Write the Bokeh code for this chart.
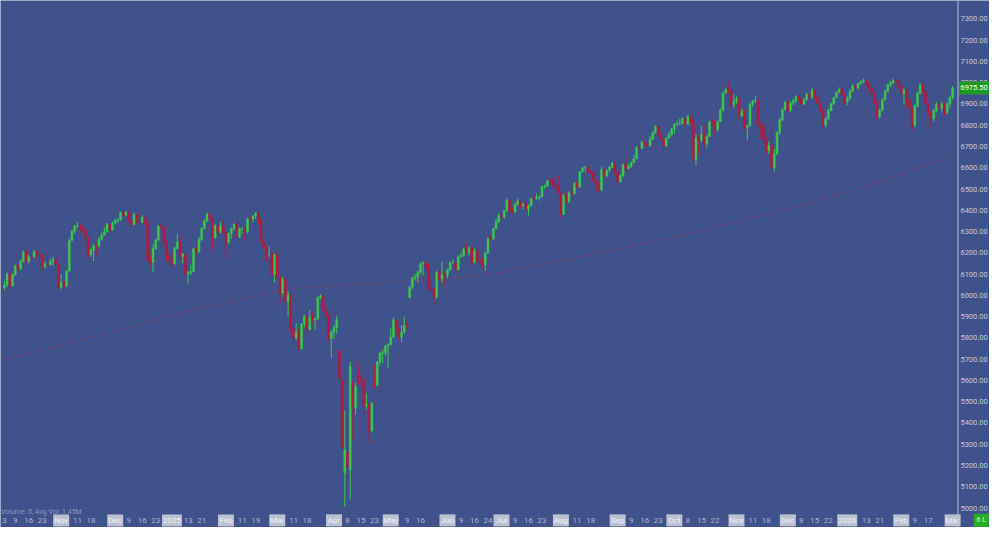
import pandas as pd
from bokeh.plotting import figure
from bokeh.models import ColumnDataSource, Range1d, Span
from bokeh.embed import file_html
from bokeh.resources import INLINE
from bokeh.core.properties import value

# ---------------- data ----------------
first_day = "2024-10-03"
last_day = "2026-03-02"
holidays = ["2024-11-28", "2024-12-25", "2025-01-01", "2025-01-09", "2025-01-20", "2025-02-17",
            "2025-04-18", "2025-05-26", "2025-06-19", "2025-07-04", "2025-09-01", "2025-11-27",
            "2025-12-25", "2026-01-01", "2026-01-19", "2026-02-16"]

opens = [6035, 6050, 6100, 6044, 6098, 6139, 6126, 6160, 6204, 6158,
         6184, 6182, 6206, 6194, 6190, 6135, 6147, 6144, 6159, 6168,
         6148, 6038, 6061, 6044, 6113, 6259, 6302, 6324, 6328, 6310,
         6309, 6272, 6192, 6214, 6235, 6234, 6264, 6283, 6299, 6333,
         6308, 6340, 6353, 6355, 6390, 6377, 6390, 6352, 6333, 6380,
         6346, 6345, 6367, 6342, 6162, 6156, 6219, 6260, 6325, 6322,
         6254, 6188, 6162, 6148, 6221, 6251, 6184, 6192, 6100, 6107,
         6113, 6219, 6205, 6263, 6314, 6350, 6382, 6362, 6272, 6327,
         6297, 6328, 6295, 6249, 6291, 6313, 6334, 6275, 6314, 6315,
         6298, 6360, 6359, 6373, 6386, 6359, 6253, 6222, 6193, 6193,
         6098, 6191, 6085, 6012, 6076, 5971, 6001, 5845, 5801, 5827,
         5749, 5865, 5901, 5840, 5899, 5886, 5890, 5989, 5997, 5931,
         5911, 5798, 5828, 5849, 5740, 5600, 5165, 5265, 5180, 5580,
         5470, 5620, 5613, 5603, 5482, 5488, 5362, 5600, 5579, 5687,
         5727, 5730, 5761, 5768, 5803, 5885, 5847, 5804, 5827, 5859,
         5990, 6038, 6080, 6086, 6109, 6149, 6155, 6131, 6034, 6031,
         5991, 6109, 6076, 6098, 6097, 6120, 6153, 6154, 6121, 6181,
         6187, 6219, 6201, 6224, 6155, 6210, 6160, 6157, 6143, 6200,
         6266, 6265, 6314, 6345, 6376, 6369, 6397, 6447, 6397, 6392,
         6428, 6444, 6422, 6430, 6404, 6422, 6454, 6453, 6461, 6463,
         6511, 6514, 6539, 6538, 6518, 6509, 6484, 6381, 6472, 6440,
         6485, 6478, 6527, 6510, 6581, 6600, 6601, 6581, 6579, 6539,
         6523, 6496, 6592, 6562, 6588, 6602, 6622, 6578, 6533, 6564,
         6617, 6595, 6607, 6624, 6642, 6696, 6691, 6721, 6712, 6703,
         6734, 6765, 6794, 6756, 6736, 6702, 6740, 6756, 6783, 6805,
         6808, 6808, 6831, 6805, 6843, 6823, 6640, 6741, 6729, 6755,
         6713, 6747, 6817, 6816, 6779, 6817, 6870, 6952, 6967, 6966,
         6896, 6913, 6924, 6843, 6866, 6790, 6798, 6900, 6914, 6918,
         6804, 6799, 6736, 6681, 6705, 6601, 6665, 6766, 6826, 6873,
         6908, 6871, 6905, 6915, 6935, 6925, 6900, 6920, 6945, 6930,
         6965, 6935, 6905, 6870, 6800, 6830, 6870, 6900, 6930, 6955,
         6970, 6945, 6910, 6925, 6960, 6985, 6975, 6995, 7005, 7010,
         6995, 6975, 6950, 6910, 6840, 6870, 6920, 6960, 6990, 7000,
         7010, 7005, 6985, 6950, 6965, 6920, 6880, 6800, 6890, 6950,
         6990, 6960, 6900, 6860, 6830, 6870, 6900, 6880, 6900, 6860,
         6900, 6930]

highs = [6068, 6108, 6110, 6104, 6145, 6150, 6168, 6210, 6215, 6190,
         6210, 6212, 6212, 6205, 6194, 6160, 6178, 6172, 6182, 6192,
         6150, 6100, 6066, 6120, 6266, 6308, 6332, 6345, 6335, 6330,
         6315, 6275, 6222, 6240, 6245, 6275, 6295, 6318, 6340, 6336,
         6346, 6360, 6362, 6395, 6400, 6398, 6394, 6368, 6390, 6385,
         6370, 6378, 6370, 6370, 6200, 6240, 6268, 6330, 6340, 6330,
         6258, 6215, 6200, 6228, 6290, 6275, 6200, 6196, 6115, 6145,
         6225, 6230, 6275, 6320, 6360, 6390, 6388, 6365, 6335, 6330,
         6345, 6360, 6300, 6296, 6320, 6340, 6348, 6320, 6320, 6318,
         6365, 6370, 6378, 6392, 6390, 6365, 6270, 6230, 6230, 6210,
         6196, 6225, 6090, 6090, 6080, 6020, 6005, 5860, 5870, 5845,
         5870, 5910, 5905, 5930, 5925, 5895, 5995, 6005, 6000, 5945,
         5915, 5835, 5860, 5905, 5745, 5610, 5458, 5480, 5690, 5600,
         5590, 5680, 5630, 5600, 5540, 5490, 5500, 5675, 5692, 5735,
         5745, 5768, 5775, 5845, 5895, 5880, 5850, 5860, 5900, 5880,
         6045, 6090, 6100, 6115, 6155, 6160, 6160, 6150, 6070, 6035,
         6115, 6120, 6160, 6110, 6125, 6160, 6170, 6180, 6190, 6200,
         6225, 6245, 6230, 6226, 6225, 6215, 6185, 6175, 6205, 6272,
         6285, 6318, 6360, 6385, 6385, 6402, 6455, 6450, 6415, 6435,
         6455, 6446, 6435, 6445, 6428, 6460, 6470, 6480, 6470, 6515,
         6522, 6542, 6552, 6555, 6540, 6565, 6490, 6476, 6478, 6490,
         6520, 6532, 6540, 6585, 6605, 6610, 6612, 6590, 6585, 6545,
         6530, 6605, 6598, 6592, 6608, 6628, 6625, 6582, 6570, 6620,
         6648, 6618, 6628, 6660, 6700, 6705, 6728, 6725, 6735, 6750,
         6772, 6800, 6800, 6765, 6740, 6745, 6768, 6788, 6810, 6822,
         6830, 6838, 6835, 6848, 6845, 6855, 6760, 6760, 6795, 6800,
         6755, 6822, 6830, 6825, 6822, 6880, 6958, 6975, 7000, 6970,
         6945, 6940, 6926, 6880, 6875, 6805, 6905, 6918, 6940, 6922,
         6815, 6810, 6745, 6725, 6790, 6690, 6772, 6835, 6880, 6915,
         6912, 6912, 6925, 6942, 6945, 6930, 6928, 6955, 6950, 6975,
         6970, 6940, 6910, 6875, 6840, 6878, 6908, 6935, 6960, 6978,
         6975, 6950, 6940, 6968, 6992, 6995, 7000, 7012, 7020, 7015,
         7000, 6980, 6955, 6915, 6880, 6928, 6968, 6995, 7008, 7018,
         7020, 7010, 6990, 6975, 6970, 6925, 6885, 6900, 6958, 6998,
         6995, 6965, 6905, 6870, 6878, 6910, 6905, 6910, 6905, 6908,
         6940, 6985]

lows = [6025, 6040, 6035, 6040, 6090, 6112, 6118, 6155, 6150, 6150,
        6175, 6176, 6170, 6162, 6120, 6128, 6138, 6140, 6140, 6140,
        6032, 6030, 6025, 6040, 6200, 6255, 6290, 6318, 6295, 6300,
        6265, 6175, 6180, 6160, 6190, 6225, 6258, 6282, 6295, 6300,
        6305, 6335, 6340, 6350, 6370, 6372, 6345, 6325, 6330, 6340,
        6338, 6340, 6330, 6155, 6130, 6110, 6215, 6255, 6310, 6235,
        6165, 6150, 6130, 6145, 6215, 6170, 6150, 6085, 6055, 6095,
        6110, 6198, 6200, 6255, 6310, 6345, 6355, 6210, 6265, 6280,
        6290, 6290, 6175, 6240, 6265, 6305, 6270, 6270, 6290, 6260,
        6290, 6350, 6345, 6360, 6335, 6245, 6215, 6160, 6180, 6092,
        6060, 6075, 5960, 6000, 5950, 5900, 5820, 5760, 5790, 5740,
        5745, 5850, 5825, 5835, 5870, 5840, 5885, 5980, 5920, 5895,
        5790, 5705, 5795, 5820, 5600, 5280, 5006, 5120, 5040, 5320,
        5440, 5580, 5570, 5440, 5465, 5305, 5355, 5560, 5570, 5670,
        5680, 5715, 5660, 5765, 5800, 5835, 5790, 5780, 5820, 5840,
        5985, 6030, 6070, 6060, 6100, 6095, 6120, 6028, 6015, 5960,
        5985, 6070, 6060, 6050, 6080, 6115, 6148, 6115, 6118, 6178,
        6180, 6195, 6185, 6130, 6150, 6150, 6150, 6125, 6115, 6195,
        6255, 6262, 6310, 6340, 6350, 6360, 6395, 6385, 6385, 6390,
        6420, 6410, 6405, 6400, 6375, 6418, 6448, 6452, 6445, 6460,
        6500, 6510, 6530, 6512, 6495, 6478, 6365, 6378, 6430, 6435,
        6450, 6475, 6505, 6505, 6578, 6580, 6575, 6570, 6530, 6480,
        6488, 6490, 6558, 6555, 6580, 6598, 6565, 6500, 6530, 6555,
        6580, 6595, 6600, 6620, 6640, 6685, 6688, 6705, 6685, 6700,
        6730, 6760, 6748, 6728, 6690, 6700, 6738, 6748, 6760, 6795,
        6800, 6805, 6798, 6802, 6810, 6625, 6610, 6660, 6720, 6695,
        6690, 6745, 6800, 6755, 6770, 6815, 6865, 6945, 6950, 6885,
        6880, 6900, 6830, 6838, 6780, 6730, 6795, 6885, 6905, 6795,
        6735, 6720, 6660, 6665, 6595, 6583, 6660, 6755, 6820, 6870,
        6860, 6860, 6895, 6905, 6915, 6890, 6895, 6915, 6920, 6925,
        6925, 6895, 6860, 6780, 6790, 6825, 6865, 6895, 6925, 6950,
        6938, 6900, 6895, 6920, 6955, 6965, 6970, 6990, 6998, 6985,
        6965, 6940, 6900, 6825, 6830, 6865, 6915, 6955, 6980, 6995,
        6995, 6975, 6940, 6900, 6880, 6865, 6770, 6790, 6885, 6945,
        6950, 6890, 6845, 6790, 6820, 6860, 6870, 6860, 6845, 6850,
        6880, 6920]

closes = [6050, 6100, 6044, 6098, 6139, 6126, 6160, 6204, 6158, 6184,
          6182, 6206, 6194, 6190, 6135, 6147, 6144, 6159, 6168, 6148,
          6038, 6061, 6044, 6113, 6259, 6302, 6324, 6328, 6310, 6309,
          6272, 6192, 6214, 6235, 6234, 6264, 6283, 6299, 6333, 6308,
          6340, 6353, 6355, 6390, 6377, 6390, 6352, 6333, 6380, 6346,
          6345, 6367, 6342, 6162, 6156, 6219, 6260, 6325, 6322, 6254,
          6188, 6162, 6148, 6221, 6251, 6184, 6192, 6100, 6107, 6113,
          6219, 6205, 6263, 6314, 6350, 6382, 6362, 6272, 6327, 6297,
          6328, 6295, 6249, 6291, 6313, 6334, 6275, 6314, 6315, 6298,
          6360, 6359, 6373, 6386, 6359, 6253, 6222, 6193, 6193, 6098,
          6191, 6085, 6012, 6076, 5971, 6001, 5845, 5801, 5827, 5749,
          5865, 5901, 5840, 5899, 5886, 5890, 5989, 5997, 5931, 5911,
          5798, 5828, 5849, 5886, 5611, 5287, 5274, 5193, 5666, 5476,
          5571, 5613, 5603, 5482, 5488, 5362, 5492, 5579, 5687, 5727,
          5730, 5761, 5768, 5803, 5885, 5847, 5804, 5827, 5859, 5855,
          6038, 6080, 6086, 6109, 6149, 6155, 6131, 6034, 6031, 5991,
          6109, 6076, 6098, 6097, 6120, 6153, 6154, 6121, 6181, 6187,
          6219, 6201, 6224, 6155, 6210, 6160, 6157, 6143, 6200, 6266,
          6265, 6314, 6345, 6376, 6369, 6397, 6447, 6397, 6392, 6428,
          6444, 6422, 6430, 6404, 6422, 6454, 6453, 6461, 6463, 6511,
          6514, 6539, 6538, 6518, 6509, 6484, 6381, 6472, 6440, 6485,
          6478, 6527, 6510, 6581, 6600, 6601, 6581, 6579, 6539, 6523,
          6496, 6592, 6562, 6588, 6602, 6622, 6578, 6533, 6564, 6617,
          6595, 6607, 6624, 6642, 6696, 6691, 6721, 6712, 6703, 6734,
          6765, 6794, 6756, 6736, 6702, 6740, 6756, 6783, 6805, 6808,
          6808, 6831, 6805, 6843, 6823, 6640, 6741, 6729, 6755, 6713,
          6747, 6817, 6816, 6779, 6817, 6870, 6952, 6967, 6966, 6896,
          6913, 6924, 6843, 6866, 6790, 6798, 6900, 6914, 6918, 6804,
          6799, 6736, 6681, 6705, 6601, 6665, 6766, 6826, 6873, 6908,
          6871, 6905, 6915, 6935, 6925, 6900, 6920, 6945, 6930, 6965,
          6935, 6905, 6870, 6800, 6830, 6870, 6900, 6930, 6955, 6970,
          6945, 6910, 6925, 6960, 6985, 6975, 6995, 7005, 7010, 6995,
          6975, 6950, 6910, 6840, 6870, 6920, 6960, 6990, 7000, 7010,
          7005, 6985, 6950, 6965, 6920, 6880, 6800, 6890, 6950, 6990,
          6960, 6900, 6860, 6830, 6870, 6900, 6880, 6900, 6860, 6900,
          6930, 6975.5]

# 200-period moving average, read at a few bars (bar number, value)
ma_bars = [0, 35, 71, 108, 152, 181, 217, 254, 290, 326, 351]
ma_values = [5695, 5812, 5935, 6036, 6068, 6100, 6191, 6291, 6405, 6542, 6660]

# date axis labels
label_dates = ["2024-10-03", "2024-10-09", "2024-10-16", "2024-10-23", "2024-11-01", "2024-11-11",
               "2024-11-18", "2024-12-02", "2024-12-09", "2024-12-16", "2024-12-23", "2025-01-02",
               "2025-01-13", "2025-01-21", "2025-02-03", "2025-02-11", "2025-02-19", "2025-03-03",
               "2025-03-11", "2025-03-18", "2025-04-01", "2025-04-08", "2025-04-15", "2025-04-23",
               "2025-05-01", "2025-05-09", "2025-05-16", "2025-06-02", "2025-06-09", "2025-06-16",
               "2025-06-24", "2025-07-01", "2025-07-09", "2025-07-16", "2025-07-23", "2025-08-01",
               "2025-08-11", "2025-08-18", "2025-09-02", "2025-09-09", "2025-09-16", "2025-09-23",
               "2025-10-01", "2025-10-08", "2025-10-15", "2025-10-22", "2025-11-03", "2025-11-11",
               "2025-11-18", "2025-12-01", "2025-12-08", "2025-12-15", "2025-12-22", "2026-01-02",
               "2026-01-13", "2026-01-21", "2026-02-02", "2026-02-09", "2026-02-17", "2026-03-02"]
label_texts = ["3", "9", "16", "23", "Nov", "11", "18", "Dec", "9", "16", "23", "2025",
               "13", "21", "Feb", "11", "19", "Mar", "11", "18", "Apr", "8", "15", "23",
               "May", "9", "16", "Jun", "9", "16", "24", "Jul", "9", "16", "23", "Aug",
               "11", "18", "Sep", "9", "16", "23", "Oct", "8", "15", "22", "Nov", "11",
               "18", "Dec", "8", "15", "22", "2026", "13", "21", "Feb", "9", "17", "Mar"]
price_ticks = list(range(5000, 7301, 100))
last_price = closes[-1]

# ---------------- styling / layout constants ----------------
BG = "#40528b"
UP = "#38c84e"
DOWN = "#b7193c"
AXIS_TXT = "#c4c9de"
DATE_TXT = "#aab2cc"
FONT = "Roboto"
X0, X1 = -1.46, 364.66          # visible bar range incl. the price-scale column
Y0, Y1 = 4908.5, 7386.7          # visible price range incl. the date strip
AXIS_X = 353.0                   # price scale separator (in bar units)
LABEL_X = 353.9                  # left edge of price labels
DATE_Y = 4942                    # date strip baseline
VOL_Y = 4983

dates = pd.bdate_range(first_day, last_day, freq="C", holidays=holidays)
bar_of = {d.strftime("%Y-%m-%d"): i for i, d in enumerate(dates)}
bars = list(range(len(closes)))

colors = [UP if c >= o else DOWN for o, c in zip(opens, closes)]
src = ColumnDataSource(dict(
    x=bars, o=opens, h=highs, l=lows, c=closes,
    top=[max(o, c) for o, c in zip(opens, closes)],
    bot=[min(o, c) for o, c in zip(opens, closes)],
    color=colors))

p = figure(width=989, height=527, output_backend="svg", toolbar_location=None,
           x_range=Range1d(X0, X1), y_range=Range1d(Y0, Y1),
           x_axis_location=None, y_axis_location=None,
           background_fill_color=BG, border_fill_color=BG,
           min_border_left=0, min_border_right=0, min_border_top=0, min_border_bottom=0,
           outline_line_color=None)
p.grid.visible = False

# moving average (dotted)
p.line(ma_bars, ma_values, line_color="#923659", line_width=1.4, line_dash="1 2", line_alpha=0.95)

# candles
p.segment(x0="x", y0="l", x1="x", y1="h", color="color", line_width=1, source=src)
p.vbar(x="x", top="top", bottom="bot", width=0.72, fill_color="color", line_color="color",
       line_width=0.5, source=src)

# price scale column
p.add_layout(Span(location=AXIS_X, dimension="height", line_color="#b9bfd8", line_width=1))
p.text(x=[LABEL_X] * len(price_ticks), y=price_ticks, text=[f"{t:.2f}" for t in price_ticks],
       text_font=value(FONT), text_font_size="7.5px", text_align="left", text_baseline="middle",
       text_color=AXIS_TXT)

# last price marker
p.rect(x=[(AXIS_X + X1) / 2 + 0.2], y=[last_price], width=31, height=13,
       width_units="screen", height_units="screen", fill_color="#1c9a22", line_color=None)
p.text(x=[LABEL_X], y=[last_price], text=[f"{last_price:.2f}"], text_font=value(FONT),
       text_font_size="7.5px", text_align="left", text_baseline="middle", text_color="#ffffff")

# date labels along the bottom strip
lbl_x = [bar_of[d] for d in label_dates]
boxed = [not t.isdigit() or len(t) == 4 for t in label_texts]
box_x = [x for x, b in zip(lbl_x, boxed) if b]
box_w = [20 if len(t) == 4 else 16 for t, b in zip(label_texts, boxed) if b]
p.rect(x=box_x, y=[DATE_Y] * len(box_x), width=box_w, height=[12] * len(box_x),
       width_units="screen", height_units="screen", fill_color="#bcc1d2", line_color=None)
p.text(x=lbl_x, y=[DATE_Y] * len(lbl_x), text=label_texts, text_font=value(FONT),
       text_font_size="8px", text_align="center", text_baseline="middle",
       text_color=["#f2f3f7" if b else DATE_TXT for b in boxed])

# bottom-right marker
p.rect(x=[361.6], y=[DATE_Y], width=15, height=13, width_units="screen", height_units="screen",
       fill_color="#22b022", line_color=None)
p.text(x=[361.6], y=[DATE_Y], text=["6 L"], text_font=value(FONT), text_font_size="7px",
       text_align="center", text_baseline="middle", text_color="#d8f5d8")

# volume info line
p.text(x=[-1.3], y=[VOL_Y], text=["Volume: 0, Avg Vol: 1.45M"], text_font=value(FONT),
       text_font_size="7px", text_align="left", text_baseline="middle", text_color="#8d97bd")

open("out.html", "w").write(file_html(p, INLINE))
